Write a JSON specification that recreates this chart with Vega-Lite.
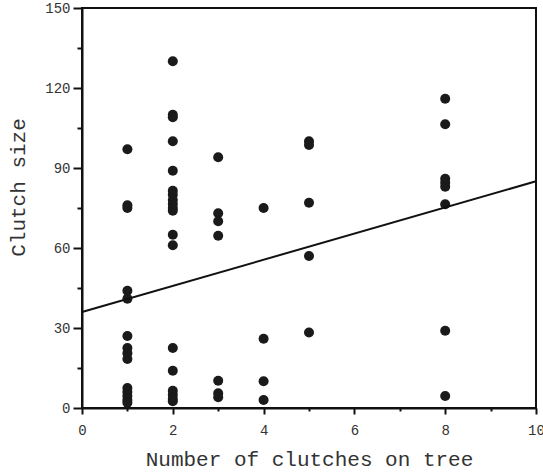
{
  "$schema": "https://vega.github.io/schema/vega-lite/v6.json",
  "autosize": "none",
  "width": 454,
  "height": 400,
  "padding": {"left": 82, "top": 8, "right": 7, "bottom": 64},
  "background": "white",
  "config": {
    "view": {"stroke": "#111", "strokeWidth": 2},
    "font": "Liberation Mono"
  },
  "datasets": {
    "clutches": [
      {"trees": 1, "size": 97}, {"trees": 1, "size": 76}, {"trees": 1, "size": 75},
      {"trees": 1, "size": 44}, {"trees": 1, "size": 41}, {"trees": 1, "size": 27},
      {"trees": 1, "size": 22.5}, {"trees": 1, "size": 20.5}, {"trees": 1, "size": 18.4},
      {"trees": 1, "size": 7.5}, {"trees": 1, "size": 6}, {"trees": 1, "size": 4.5},
      {"trees": 1, "size": 3}, {"trees": 1, "size": 2},
      {"trees": 2, "size": 130}, {"trees": 2, "size": 110}, {"trees": 2, "size": 109},
      {"trees": 2, "size": 100}, {"trees": 2, "size": 89}, {"trees": 2, "size": 81.5},
      {"trees": 2, "size": 80}, {"trees": 2, "size": 78}, {"trees": 2, "size": 76.5},
      {"trees": 2, "size": 75}, {"trees": 2, "size": 74}, {"trees": 2, "size": 65},
      {"trees": 2, "size": 61}, {"trees": 2, "size": 22.5}, {"trees": 2, "size": 14},
      {"trees": 2, "size": 6.5}, {"trees": 2, "size": 5}, {"trees": 2, "size": 3.5},
      {"trees": 2, "size": 2.5},
      {"trees": 3, "size": 94}, {"trees": 3, "size": 73}, {"trees": 3, "size": 70},
      {"trees": 3, "size": 64.6}, {"trees": 3, "size": 10.2}, {"trees": 3, "size": 5.5},
      {"trees": 3, "size": 4},
      {"trees": 4, "size": 75}, {"trees": 4, "size": 26}, {"trees": 4, "size": 10},
      {"trees": 4, "size": 3},
      {"trees": 5, "size": 100}, {"trees": 5, "size": 98.6}, {"trees": 5, "size": 77},
      {"trees": 5, "size": 57}, {"trees": 5, "size": 28.3},
      {"trees": 8, "size": 116}, {"trees": 8, "size": 106.4}, {"trees": 8, "size": 86},
      {"trees": 8, "size": 84.5}, {"trees": 8, "size": 83}, {"trees": 8, "size": 76.4},
      {"trees": 8, "size": 29}, {"trees": 8, "size": 4.5}
    ],
    "fit": [
      {"trees": 0, "size": 36},
      {"trees": 10, "size": 85}
    ]
  },
  "encoding": {
    "x": {
      "field": "trees",
      "type": "quantitative",
      "scale": {"domain": [0, 10], "nice": false, "zero": false},
      "axis": {
        "title": "Number of clutches on tree",
        "values": [0, 1, 2, 3, 4, 5, 6, 7, 8, 9, 10],
        "labelExpr": "datum.value % 2 === 0 ? datum.label : ''",
        "labelFlush": false,
        "grid": false,
        "domainColor": "#111",
        "domainWidth": 2,
        "tickColor": "#111",
        "tickWidth": 2,
        "tickSize": {"condition": {"test": "datum.value % 2 === 0", "value": 6}, "value": 3},
        "labelFont": "Liberation Mono",
        "labelFontSize": 14,
        "labelColor": "#333",
        "labelPadding": 9,
        "titleFont": "Liberation Mono",
        "titleFontSize": 21,
        "titleFontWeight": "normal",
        "titleColor": "#333",
        "titleBaseline": "middle",
        "titleY": 51
      }
    },
    "y": {
      "field": "size",
      "type": "quantitative",
      "scale": {"domain": [0, 150], "nice": false},
      "axis": {
        "title": "Clutch size",
        "values": [0, 15, 30, 45, 60, 75, 90, 105, 120, 135, 150],
        "labelExpr": "datum.value % 30 === 0 ? datum.label : ''",
        "labelFlush": false,
        "grid": false,
        "domainColor": "#111",
        "domainWidth": 2,
        "tickColor": "#111",
        "tickWidth": 2,
        "tickSize": {"condition": {"test": "datum.value % 30 === 0", "value": 9}, "value": 5},
        "labelFont": "Liberation Mono",
        "labelFontSize": 14,
        "labelColor": "#333",
        "labelPadding": 3,
        "titleFont": "Liberation Mono",
        "titleFontSize": 21,
        "titleFontWeight": "normal",
        "titleColor": "#333",
        "titleAngle": -90,
        "titleAlign": "center",
        "titleBaseline": "middle",
        "titleX": -64,
        "titleY": 179
      }
    }
  },
  "layer": [
    {
      "data": {"name": "clutches"},
      "mark": {"type": "circle", "size": 100, "color": "#1a1a1a", "opacity": 1}
    },
    {
      "data": {"name": "fit"},
      "mark": {"type": "line", "color": "#111", "strokeWidth": 2}
    }
  ]
}
